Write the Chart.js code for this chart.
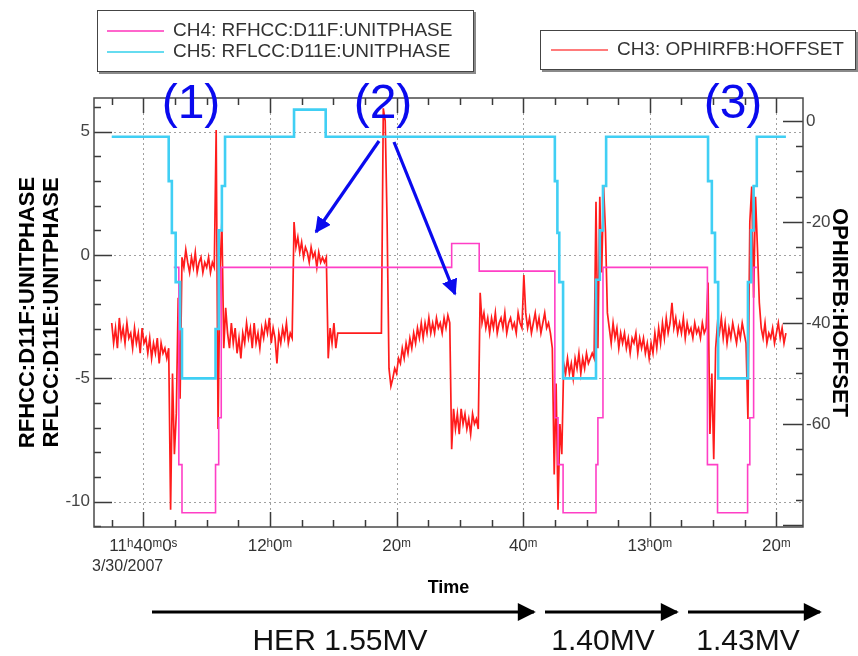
<!DOCTYPE html>
<html>
<head>
<meta charset="utf-8">
<script src="https://cdn.jsdelivr.net/npm/chart.js@4/dist/chart.umd.min.js"></script>
<style>
  body { margin: 0; background: #fff; }
  #wrap { position: relative; width: 858px; height: 656px; overflow: hidden; font-family: "Liberation Sans", Arial, sans-serif; }
  canvas { position: absolute; left: 0; top: 0; }
  .legend { position: absolute; background: #fff; border: 1px solid #444; box-shadow: 2px 2px 0 #8a8a8a; }
  .legend .row { position: absolute; left: 0; height: 20px; width: 100%; }
  .legend .swatch { position: absolute; left: 9px; top: 9px; width: 57px; height: 2px; }
  .legend .txt { position: absolute; left: 75px; top: -1px; font-size: 19px; line-height: 20px; color: #333; white-space: nowrap; }
  #date { position: absolute; left: 92px; top: 557px; font-size: 16px; color: #333; }
  svg { position: absolute; left: 0; top: 0; }
</style>
</head>
<body>
<div id="wrap">
  <canvas id="chart" width="858" height="656"></canvas>
  <div id="date">3/30/2007</div>

  <div class="legend" style="left:97px;top:10px;width:375px;height:60px">
    <div class="row" style="top:10px"><div class="swatch" style="background:#ff66cc"></div><div class="txt">CH4: RFHCC:D11F:UNITPHASE</div></div>
    <div class="row" style="top:31px"><div class="swatch" style="background:#66dcf0"></div><div class="txt">CH5: RFLCC:D11E:UNITPHASE</div></div>
  </div>
  <div class="legend" style="left:540px;top:30px;width:314px;height:38px">
    <div class="row" style="top:9px"><div class="swatch" style="left:10px;background:#ff7b7b"></div><div class="txt" style="left:76px">CH3: OPHIRFB:HOFFSET</div></div>
  </div>

  <svg width="858" height="656" xmlns="http://www.w3.org/2000/svg">
    <defs>
      <marker id="blueHead" viewBox="0 0 10 10" refX="9" refY="5" markerWidth="5" markerHeight="5" orient="auto">
        <path d="M0,0 L10,5 L0,10 z" fill="#0a0aee"/>
      </marker>
      <marker id="blackHead" viewBox="0 0 10 10" refX="9" refY="5" markerWidth="7" markerHeight="6" orient="auto">
        <path d="M0,0 L10,5 L0,10 z" fill="#000"/>
      </marker>
    </defs>
    <g fill="#0a0aee" font-family="Liberation Sans, Arial, sans-serif" font-size="48" text-anchor="middle">
      <text x="191" y="118">(1)</text>
      <text x="383" y="118">(2)</text>
      <text x="733" y="118">(3)</text>
    </g>
    <g stroke="#0a0aee" stroke-width="3.2">
      <line x1="379" y1="141" x2="316" y2="232" marker-end="url(#blueHead)"/>
      <line x1="394" y1="142" x2="455" y2="294" marker-end="url(#blueHead)"/>
    </g>
    <g stroke="#000" stroke-width="3">
      <line x1="152" y1="612" x2="534" y2="612" marker-end="url(#blackHead)"/>
      <line x1="545" y1="612" x2="677" y2="612" marker-end="url(#blackHead)"/>
      <line x1="688" y1="612" x2="820" y2="612" marker-end="url(#blackHead)"/>
    </g>
    <g fill="#111" font-family="Liberation Sans, Arial, sans-serif" font-size="30" text-anchor="middle">
      <text x="340" y="650">HER 1.55MV</text>
      <text x="603" y="650">1.40MV</text>
      <text x="748" y="650">1.43MV</text>
    </g>
  </svg>
</div>

<script>
// x values are minutes after 11:00 on 3/30/2007
const majorTickMinutes = [40, 60, 80, 100, 120, 140];
const majorTickLabels = ["11\u02b040\u1d500\u02e2", "12\u02b00\u1d50", "20\u1d50", "40\u1d50", "13\u02b00\u1d50", "20\u1d50"];

// CH5: RFLCC:D11E:UNITPHASE (left axis, step changes)
const ch5Minutes = [35.0, 44.0, 44.5, 45.1, 45.8, 46.1, 51.4, 51.9, 52.4, 52.9, 63.8, 68.8,
  105.0, 105.4, 105.7, 106.3, 111.5, 112.1, 112.6, 113.1,
  129.2, 129.8, 130.3, 130.8, 135.5, 136.0, 136.4, 136.9, 141.5];
const ch5Values = [4.8, 3.0, 0.9, -1.1, -3.0, -5.0, -3.0, 1.0, 2.8, 4.8, 5.9, 4.8,
  3.0, 0.9, -1.1, -5.0, -1.0, 1.0, 2.8, 4.8,
  3.0, 0.9, -1.1, -5.0, -1.1, 1.0, 2.8, 4.8, 4.8];

// CH4: RFHCC:D11F:UNITPHASE (left axis, step changes)
const ch4Minutes = [44.8, 45.6, 46.1, 51.4, 51.9, 52.3, 88.7, 93.05,
  105.0, 105.5, 106.3, 111.5, 111.8, 112.6,
  129.1, 130.7, 135.45, 135.8, 136.4, 136.9];
const ch4Values = [-0.5, -8.5, -10.45, -8.5, -6.6, -0.5, 0.47, -0.65,
  -6.6, -8.5, -10.45, -8.5, -6.6, -0.5,
  -8.5, -10.45, -8.5, -6.6, -0.5, -0.5];

// CH3: OPHIRFB:HOFFSET (right axis), logged every 0.3 min from 11:35
const ch3Start = 35.0;
const ch3Step = 0.3;
const ch3Values = [
  -40, -44, -41, -45, -39, -43, -41, -44, -40, -43,
  -42, -45, -41, -44, -42, -46, -41, -44, -43, -46,
  -43, -47, -44, -46, -43, -48, -44, -46, -45, -47,
  -45, -77, -50, -66, -58, -35, -55, -27, -29, -25.5,
  -28, -30, -27, -29, -26, -30, -28, -27, -30, -28,
  -29, -27, -30, -28, -29, -1.8, -61, -30, -20, -45,
  -37, -42, -45, -40, -44, -41, -46, -43, -47, -42,
  -44, -40, -43, -41, -45, -40, -44, -42, -45, -41,
  -43, -40, -42, -39, -44, -41, -43, -48, -42, -44,
  -41, -43, -40, -44, -42, -43, -20, -25, -23, -26,
  -24, -27, -25, -26, -28, -25, -27, -26, -29, -26,
  -28, -27, -28, -27, -47, -41, -44, -40, -45, -42,
  -42, -42, -42, -42, -42, -42, -42, -42, -42, -42,
  -42, -42, -42, -42, -42, -42, -42, -42, -42, -42,
  -42, -42, -42, 2.5, 0, -20, -49, -52.5, -51, -49,
  -50, -47, -48, -45, -47, -44, -46, -43, -45, -42,
  -44, -41, -43, -40, -43, -40, -42, -39, -42, -40,
  -42, -39, -41, -40, -42, -39, -41, -38.5, -40, -65,
  -57, -61, -58, -62, -57, -60, -58, -61, -59, -62,
  -58, -60, -59, -61, -34, -40, -38, -41, -39, -42,
  -39, -41, -38, -42, -40, -39, -41, -38, -42, -40,
  -39, -41, -40, -42, -38, -40, -41, -30.5, -38, -41,
  -39, -42, -40, -38, -41, -39, -42, -40, -38, -41,
  -40, -42, -45, -70, -52, -77, -60, -66, -48, -50,
  -47, -50, -48, -51, -47, -49, -46, -50, -47, -49,
  -46, -48, -47, -46, -47, -16, -45, -15, -30, -13,
  -22, -38, -41, -44, -40, -43, -41, -45, -42, -44,
  -42, -45, -43, -46, -43, -44, -42, -46, -43, -45,
  -43, -46, -44, -47, -44, -46, -42, -45, -41, -44,
  -40, -43, -39, -42, -40, -36, -41, -39, -42, -40,
  -42, -39, -43, -40, -42, -41, -43, -40, -42, -41,
  -43, -40, -42, -41, -32, -62, -50, -67, -45, -40,
  -42, -39, -43, -40, -44, -41, -43, -40, -42, -44,
  -41, -43, -40, -42, -44, -59, -20, -13, -35, -15,
  -25, -36, -41, -43, -40, -44, -42, -43, -41, -44,
  -42, -40, -43, -41, -44, -42
];

const leftGridValues = [5, 0, -5, -10];

const ch5Points = ch5Minutes.map((m, i) => ({ x: m, y: ch5Values[i] }));
const ch4Points = ch4Minutes.map((m, i) => ({ x: m, y: ch4Values[i] }));
const ch3Points = ch3Values.map((v, i) => ({ x: ch3Start + i * ch3Step, y: v }));

const FONT = '"Liberation Sans", Arial, sans-serif';
const NARROW = '"Liberation Sans Narrow", "Liberation Sans", Arial, sans-serif';

// dashed grid, inward tick marks and the frame round the plot
const frameAndTicks = {
  id: 'frameAndTicks',
  beforeDatasetsDraw(chart) {
    const { ctx, chartArea: a, scales } = chart;
    ctx.save();
    ctx.strokeStyle = '#a0a0a0';
    ctx.lineWidth = 1;
    ctx.setLineDash([2, 3]);
    ctx.beginPath();
    majorTickMinutes.forEach(v => {
      const x = Math.round(scales.x.getPixelForValue(v)) + 0.5;
      ctx.moveTo(x, a.top); ctx.lineTo(x, a.bottom);
    });
    leftGridValues.forEach(v => {
      const y = Math.round(scales.y.getPixelForValue(v)) + 0.5;
      ctx.moveTo(a.left, y); ctx.lineTo(a.right, y);
    });
    ctx.stroke();
    ctx.setLineDash([]);

    ctx.strokeStyle = '#3a3a3a';
    ctx.lineWidth = 1.5;
    ctx.beginPath();
    scales.x.ticks.forEach(t => {
      const x = Math.round(scales.x.getPixelForValue(t.value)) + 0.5;
      const len = t.value % 20 === 0 ? 15 : 7;
      ctx.moveTo(x, a.bottom); ctx.lineTo(x, a.bottom - len);
      ctx.moveTo(x, a.top); ctx.lineTo(x, a.top + len);
    });
    scales.y.ticks.forEach(t => {
      const y = Math.round(scales.y.getPixelForValue(t.value)) + 0.5;
      const len = t.value % 5 === 0 ? 18 : 7;
      ctx.moveTo(a.left, y); ctx.lineTo(a.left + len, y);
    });
    scales.y2.ticks.forEach(t => {
      const y = Math.round(scales.y2.getPixelForValue(t.value)) + 0.5;
      const len = t.value % 20 === 0 ? 20 : 7;
      ctx.moveTo(a.right, y); ctx.lineTo(a.right - len, y);
    });
    ctx.stroke();
    ctx.restore();
  },
  afterDatasetsDraw(chart) {
    const { ctx, chartArea: a } = chart;
    ctx.save();
    ctx.strokeStyle = '#4a4a4a';
    ctx.lineWidth = 1.5;
    ctx.strokeRect(a.left, a.top, a.right - a.left, a.bottom - a.top);
    ctx.restore();
  }
};

new Chart(document.getElementById('chart'), {
  type: 'line',
  data: {
    datasets: [
      {
        label: 'CH3: OPHIRFB:HOFFSET',
        data: ch3Points,
        yAxisID: 'y2',
        borderColor: '#ff1c1c',
        borderWidth: 1.7,
        pointRadius: 0,
        order: 3
      },
      {
        label: 'CH4: RFHCC:D11F:UNITPHASE',
        data: ch4Points,
        yAxisID: 'y',
        stepped: 'before',
        borderColor: '#ff3fc6',
        borderWidth: 1.6,
        pointRadius: 0,
        order: 2
      },
      {
        label: 'CH5: RFLCC:D11E:UNITPHASE',
        data: ch5Points,
        yAxisID: 'y',
        stepped: 'before',
        borderColor: '#40cff4',
        borderWidth: 2.6,
        pointRadius: 0,
        order: 1
      }
    ]
  },
  options: {
    responsive: false,
    animation: false,
    layout: { padding: { top: 98 } },
    plugins: { legend: { display: false }, tooltip: { enabled: false } },
    scales: {
      x: {
        type: 'linear',
        min: 32.2,
        max: 144.2,
        grid: { display: false, drawTicks: false },
        border: { display: false },
        ticks: {
          stepSize: 5, includeBounds: false, autoSkip: false, maxRotation: 0, maxTicksLimit: 100,
          padding: 9, color: '#333', font: { family: FONT, size: 17 },
          callback: v => {
            const k = majorTickMinutes.indexOf(v);
            return k >= 0 ? majorTickLabels[k] : '';
          }
        },
        title: {
          display: true, text: 'Time', color: '#000',
          font: { family: FONT, size: 18, weight: 'bold' },
          padding: { top: 0, bottom: 57 }
        },
        afterFit: s => { s.height = 129; }
      },
      y: {
        position: 'left',
        min: -11.03,
        max: 6.37,
        grid: { display: false, drawTicks: false },
        border: { display: false },
        ticks: {
          stepSize: 1, includeBounds: false, autoSkip: false, maxTicksLimit: 100,
          padding: 4, color: '#444', font: { family: FONT, size: 17 },
          callback: v => (v % 5 === 0 ? String(v) : '')
        },
        title: {
          display: true, text: ['RFHCC:D11F:UNITPHASE', 'RFLCC:D11E:UNITPHASE'], color: '#000',
          font: { family: FONT, size: 22, weight: 'bold', lineHeight: 1.1 },
          padding: { top: 16, bottom: 0 }
        },
        afterFit: s => { s.width = 94; }
      },
      y2: {
        position: 'right',
        min: -80.4,
        max: 4.55,
        grid: { display: false, drawTicks: false },
        border: { display: false },
        ticks: {
          stepSize: 5, includeBounds: false, autoSkip: false, maxTicksLimit: 100,
          padding: 3, color: '#444', font: { family: NARROW, size: 17 },
          callback: v => (v % 20 === 0 && v > -80 ? String(v) : '')
        },
        title: {
          display: true, text: 'OPHIRFB:HOFFSET', color: '#000',
          font: { family: FONT, size: 22, weight: 'bold', lineHeight: 1.1 },
          padding: { top: 7, bottom: 0 }
        },
        afterFit: s => { s.width = 55; }
      }
    }
  },
  plugins: [frameAndTicks]
});
</script>
</body>
</html>
